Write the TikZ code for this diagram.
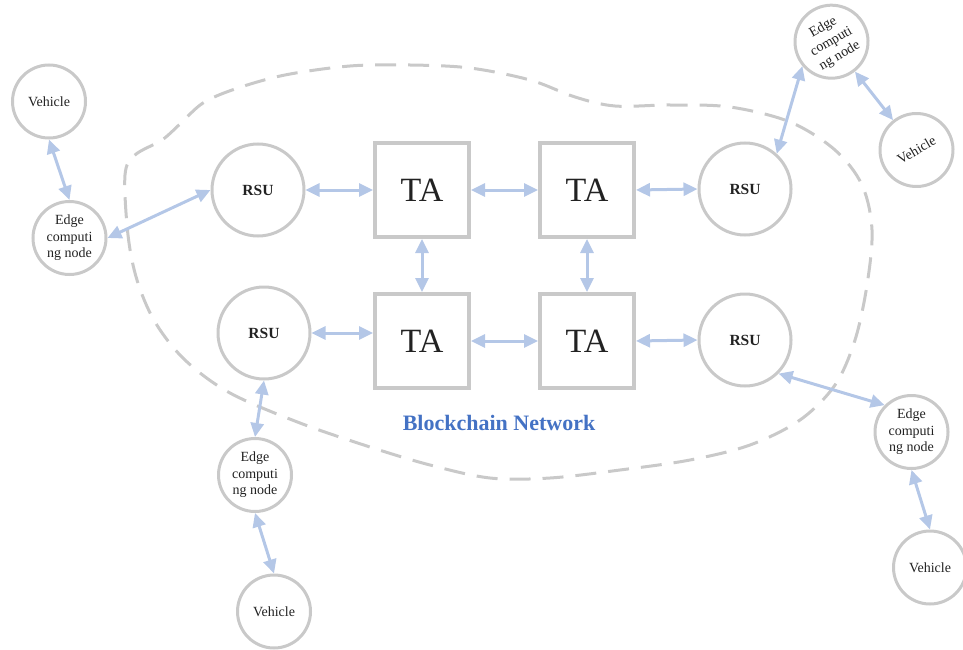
\documentclass[tikz,border=0pt]{standalone}
\usepackage{fontspec}
\setmainfont{Liberation Serif}
\usetikzlibrary{arrows.meta,calc}
\definecolor{cgray}{HTML}{C9C9C9}
\definecolor{cblue}{HTML}{B4C7E7}
\definecolor{tblue}{HTML}{4472C4}
\definecolor{ctext}{HTML}{222222}
\begin{document}
\begin{tikzpicture}[x=1pt,y=-1pt,
 circ/.style={circle,draw=cgray,line width=3pt,inner sep=0pt,text=ctext},
 rsu/.style={circ,minimum size=92pt,font=\fontsize{15.5}{18}\selectfont\bfseries},
 veh/.style={circ,minimum size=73pt,font=\fontsize{14}{16}\selectfont},
 edgec/.style={circ,minimum size=73pt,align=center,font=\fontsize{14}{16.5}\selectfont},
 ta/.style={draw=cgray,line width=4pt,minimum size=94pt,inner sep=0pt,text=ctext,font=\fontsize{34}{40}\selectfont},
 link/.style={draw=cblue,line width=3pt,{Triangle[length=14pt,width=13pt]}-{Triangle[length=14pt,width=13pt]}},
 blob/.style={draw=cgray,line width=3pt,dash pattern=on 21pt off 12pt}
]
\useasboundingbox (0,0) rectangle (963,650);
% blockchain network outline
\draw[blob] plot[smooth cycle, tension=0.55] coordinates {
 (125,175) (135,155) (162,140) (180,124) (203,103) (235,89) (285,75) (350,66)
 (410,65) (470,68) (530,80) (575,97) (615,106) (670,105) (730,107) (790,122)
 (835,150) (862,185) (872,230) (867,285) (855,340) (835,385) (800,420) (750,445)
 (690,460) (620,470) (550,478) (490,478) (430,465) (370,447) (300,423) (230,393)
 (185,360) (155,322) (137,280) (128,235)};
\node[text=tblue,font=\fontsize{22}{26}\selectfont\bfseries] (bn) at (499,423) {Blockchain Network};
% TAs
\node[ta] (ta1) at (422,190) {TA};
\node[ta] (ta2) at (587,190) {TA};
\node[ta] (ta3) at (422,341) {TA};
\node[ta] (ta4) at (587,341) {TA};
% RSUs
\node[rsu] (r1) at (258,190) {RSU};
\node[rsu] (r2) at (745,189) {RSU};
\node[rsu] (r3) at (264,333) {RSU};
\node[rsu] (r4) at (745,340) {RSU};
% edge computing nodes
\node[edgec] (e1) at (69.5,238) {Edge\\computi\\ng node};
\node[edgec] (e3) at (255,475) {Edge\\computi\\ng node};
\node[edgec] (e4) at (911.5,432) {Edge\\computi\\ng node};
\node[edgec,rotate=30] (e2) at (831.5,41.7) {Edge\\computi\\ng node};
% vehicles
\node[veh] (v1) at (49,101.5) {Vehicle};
\node[veh] (v3) at (274,611.5) {Vehicle};
\node[veh] (v4) at (930,567.5) {Vehicle};
\node[veh,rotate=30] (v2) at (916.5,150) {Vehicle};
% connectors
\draw[link] (v1.south) -- (e1.north);
\draw[link] (e1.east) -- (r1.west);
\draw[link] (r1.east) -- (ta1.west);
\draw[link] (ta1.east) -- (ta2.west);
\draw[link] (ta2.east) -- (r2.west);
\draw[link] (r2.48) -- (e2.190);
\draw[link] (e2) -- (v2);
\draw[link] (ta1.south) -- (ta3.north);
\draw[link] (ta2.south) -- (ta4.north);
\draw[link] (r3.east) -- (r3.east -| ta3.west);
\draw[link] (ta3.east) -- (ta4.west);
\draw[link] (ta4.east) -- (r4.west);
\draw[link] (r4.south east) -- (e4.north west);
\draw[link] (e4.south) -- (v4.north);
\draw[link] (r3.south) -- (e3.north);
\draw[link] (e3.south) -- (v3.north);
\end{tikzpicture}
\end{document}
